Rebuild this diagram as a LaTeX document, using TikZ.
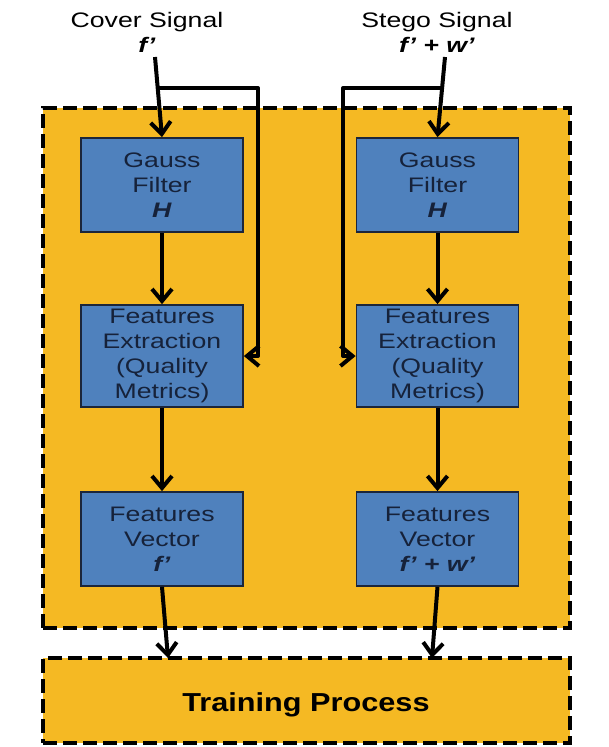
\documentclass[tikz,border=0pt]{standalone}
\usepackage{fontspec}
\setmainfont{Liberation Sans}
\newfontfamily\boxfont[FakeStretch=1.27]{Liberation Sans}
\newfontfamily\trainfont[FakeStretch=1.18]{Liberation Sans}
\usetikzlibrary{arrows.meta}
\definecolor{gold}{RGB}{245,185,35}
\definecolor{bblue}{RGB}{79,129,189}
\definecolor{navy}{RGB}{22,34,58}
\definecolor{bord}{RGB}{28,38,58}
\begin{document}
\begin{tikzpicture}[x=1pt,y=-1pt,
  proc/.style={draw=bord, line width=1.8pt, fill=bblue, text=navy,
    minimum width=162pt, align=center, inner sep=0pt,
    font=\boxfont\fontsize{21}{25}\selectfont},
  group/.style={draw=black, fill=gold, line width=4.5pt,
    dash pattern=on 14pt off 6pt, minimum width=527pt, inner sep=0pt},
  title/.style={align=center, inner sep=0pt, text=black,
    font=\boxfont\fontsize{21}{25}\selectfont},
  arr/.style={line width=4pt, line join=round,
    -{Straight Barb[length=12pt,width=20pt]}}
]
\useasboundingbox (0,0) rectangle (609,747);

% groups
\node[group, minimum height=520pt] (grp) at (306.5,368) {};
\node[group, minimum height=85pt] (train) at (306.5,700.5) {};
\node[anchor=base, inner sep=0pt, font=\trainfont\bfseries\fontsize{26}{30}\selectfont]
  (trtext) at (306,711) {Training Process};

% titles
\node[title] (cover) at (147,32) {Cover Signal\\\textbf{\textit{f’}}};
\node[title] (stego) at (437,32) {Stego Signal\\\textbf{\textit{f’ + w’}}};

% left column
\node[proc, minimum height=94pt]  (gauss1) at (162,185) {Gauss\\Filter\\\textbf{\textit{H}}};
\node[proc, minimum height=102pt] (fe1)    at (162,356) {Features\\Extraction\\(Quality\\Metrics)};
\node[proc, minimum height=94pt]  (fv1)    at (162,539) {Features\\Vector\\\textbf{\textit{f’}}};

% right column
\node[proc, minimum height=94pt]  (gauss2) at (437.5,185) {Gauss\\Filter\\\textbf{\textit{H}}};
\node[proc, minimum height=102pt] (fe2)    at (437.5,356) {Features\\Extraction\\(Quality\\Metrics)};
\node[proc, minimum height=94pt]  (fv2)    at (437.5,539) {Features\\Vector\\\textbf{\textit{f’ + w’}}};

% helper coordinates
\coordinate (cin1) at (155,57);
\coordinate (cin2) at (445,57);
\coordinate (j1) at (157.7,88);
\coordinate (j2) at (441.9,88);
\coordinate (c1) at (258,88);
\coordinate (c1b) at (258,356);
\coordinate (c2) at (343,88);
\coordinate (c2b) at (343,356);
\coordinate (t1) at (168,658);
\coordinate (t2) at (432,658);

% connectors
\draw[arr] (cin1) -- (gauss1.north);
\draw[arr] (cin2) -- (gauss2.north);
\draw[arr] (j1) -- (c1) -- (c1b) -- (fe1.east);
\draw[arr] (j2) -- (c2) -- (c2b) -- (fe2.west);
\draw[arr] (gauss1) -- (fe1);
\draw[arr] (fe1) -- (fv1);
\draw[arr] (gauss2) -- (fe2);
\draw[arr] (fe2) -- (fv2);
\draw[arr] (fv1.south) -- (t1);
\draw[arr] (fv2.south) -- (t2);
\end{tikzpicture}
\end{document}
